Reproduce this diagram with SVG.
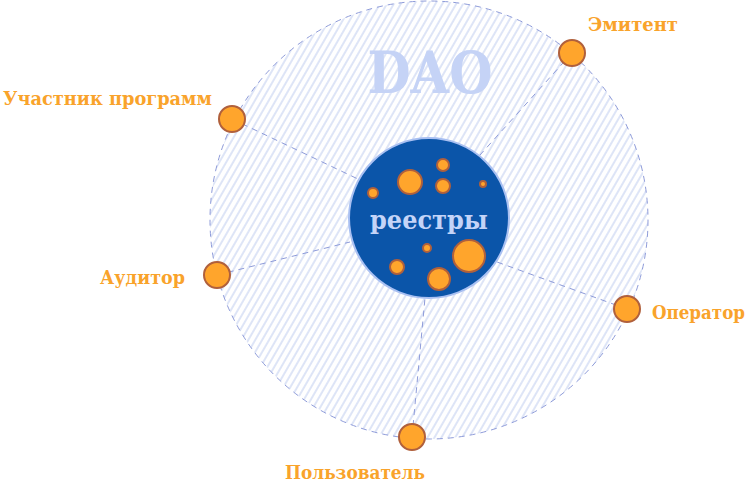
<svg xmlns="http://www.w3.org/2000/svg" width="749" height="485" viewBox="0 0 749 485">
<defs>
<pattern id="hatch" patternUnits="userSpaceOnUse" width="6" height="6" patternTransform="rotate(30)">
<line x1="1" y1="0" x2="1" y2="6" stroke="#bccaee" stroke-width="1"/>
</pattern>
<style>
.dash{fill:none;stroke:#8e9bd9;stroke-width:1;stroke-dasharray:6 5}
.node{fill:#ffa52c;stroke:#b0603c;stroke-width:2}
.dot{fill:#ffa52c;stroke:#b0603c;stroke-width:2}
.lbl{font-family:"DejaVu Serif","Liberation Serif",serif;font-weight:bold;font-size:18.5px;fill:#f9a32b}
</style>
</defs>
<g id="dao">
<circle cx="429" cy="220" r="219" fill="url(#hatch)"/>
<circle cx="429" cy="220" r="219" class="dash"/>
<text x="430" y="93" text-anchor="middle" font-family="'DejaVu Serif','Liberation Serif',serif" font-weight="bold" font-size="57" fill="#c5d3f6" textLength="125" lengthAdjust="spacingAndGlyphs">DAO</text>
</g>
<g id="connectors">
<line x1="572" y1="53" x2="480" y2="155" class="dash"/>
<line x1="232" y1="119" x2="360" y2="180" class="dash"/>
<line x1="217" y1="275" x2="350" y2="242" class="dash"/>
<line x1="627" y1="309" x2="497" y2="262" class="dash"/>
<line x1="412" y1="437" x2="425" y2="298" class="dash"/>
</g>
<g id="registry">
<circle cx="429" cy="218" r="80" fill="#0b55a9" stroke="#a9c0f2" stroke-width="2"/>
<circle cx="410" cy="182" r="12" class="dot"/>
<circle cx="443" cy="165" r="6" class="dot"/>
<circle cx="443" cy="186" r="7" class="dot"/>
<circle cx="373" cy="193" r="5" class="dot"/>
<circle cx="483" cy="184" r="3" class="dot"/>
<circle cx="427" cy="248" r="4" class="dot"/>
<circle cx="469" cy="256" r="16" class="dot"/>
<circle cx="397" cy="267" r="7" class="dot"/>
<circle cx="439" cy="279" r="11" class="dot"/>
<text x="429" y="229" text-anchor="middle" font-family="'DejaVu Serif','Liberation Serif',serif" font-weight="bold" font-size="26" fill="#c4d4f8" textLength="118" lengthAdjust="spacingAndGlyphs">реестры</text>
</g>
<g id="emitent">
<circle cx="572" cy="53" r="13" class="node"/>
<text x="588" y="31" class="lbl" textLength="90" lengthAdjust="spacingAndGlyphs">Эмитент</text>
</g>
<g id="participant">
<circle cx="232" cy="119" r="13" class="node"/>
<text x="3" y="105" class="lbl" textLength="209" lengthAdjust="spacingAndGlyphs">Участник программ</text>
</g>
<g id="auditor">
<circle cx="217" cy="275" r="13" class="node"/>
<text x="100" y="284" class="lbl" textLength="85" lengthAdjust="spacingAndGlyphs">Аудитор</text>
</g>
<g id="operator">
<circle cx="627" cy="309" r="13" class="node"/>
<text x="652" y="319" class="lbl" textLength="93" lengthAdjust="spacingAndGlyphs">Оператор</text>
</g>
<g id="user">
<circle cx="412" cy="437" r="13" class="node"/>
<text x="285" y="479" class="lbl" textLength="140" lengthAdjust="spacingAndGlyphs">Пользователь</text>
</g>
</svg>
